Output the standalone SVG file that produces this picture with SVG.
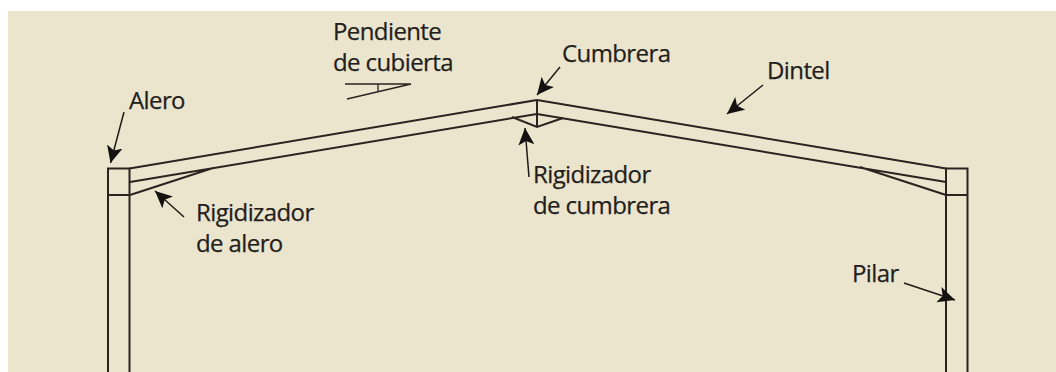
<svg xmlns="http://www.w3.org/2000/svg" width="1056" height="372" viewBox="0 0 1056 372">
<style>
.l{fill:none;stroke:#2a2320;stroke-width:2}
.a{fill:none;stroke:#1f1a18;stroke-width:1.5}
text{font-family:"Open Sans","Noto Sans","Liberation Sans",sans-serif;font-size:24px;fill:#231e1c;stroke:#231e1c;stroke-width:.25;letter-spacing:-.6px}
</style>
<defs><marker id="h" markerUnits="userSpaceOnUse" markerWidth="20" markerHeight="18" refX="17" refY="8" orient="auto"><path d="M0 0L17 8L0 16L4 8Z" fill="#141110"/></marker></defs>
<rect width="1056" height="372" fill="#fff"/>
<rect x="8" y="11" width="1048" height="361" fill="#ebe5ce"/>
<g id="pilar-izquierdo"><path class="l" d="M108 372V168.500H129.500V372M108 195H129.500"/></g>
<g id="pilar-derecho"><path class="l" d="M946 372V168.500H967.500V372M946 195H967.500"/></g>
<g id="dintel-izquierdo"><path class="l" d="M129.500 168.500L537 100M130 182L537 114M130 195L213 168"/></g>
<g id="dintel-derecho"><path class="l" d="M537 100L946 168.500M537 114L946 182M946 195L860 167"/></g>
<g id="cumbrera"><path class="l" d="M537 100V127M512 117L537 127L563 118"/></g>
<g id="pendiente"><path class="l" style="stroke-width:1.300" d="M345 84H411L347 99M378 84V91"/></g>
<g id="conectores">
<path class="a" marker-end="url(#h)" d="M124 112L110.500 163"/>
<path class="a" marker-end="url(#h)" d="M184 217L155 191"/>
<path class="a" marker-end="url(#h)" d="M560 67L537 95"/>
<path class="a" marker-end="url(#h)" d="M529 177L525 128"/>
<path class="a" marker-end="url(#h)" d="M763 85L727 114"/>
<path class="a" marker-end="url(#h)" d="M904 283L955 300"/>
</g>
<g id="etiquetas">
<text x="129" y="109">Alero</text>
<text x="333" y="40">Pendiente</text>
<text x="333" y="71">de cubierta</text>
<text x="562" y="62">Cumbrera</text>
<text x="767" y="79">Dintel</text>
<text x="533" y="183">Rigidizador</text>
<text x="533" y="214">de cumbrera</text>
<text x="196" y="221">Rigidizador</text>
<text x="196" y="252">de alero</text>
<text x="852" y="282">Pilar</text>
</g>
</svg>
